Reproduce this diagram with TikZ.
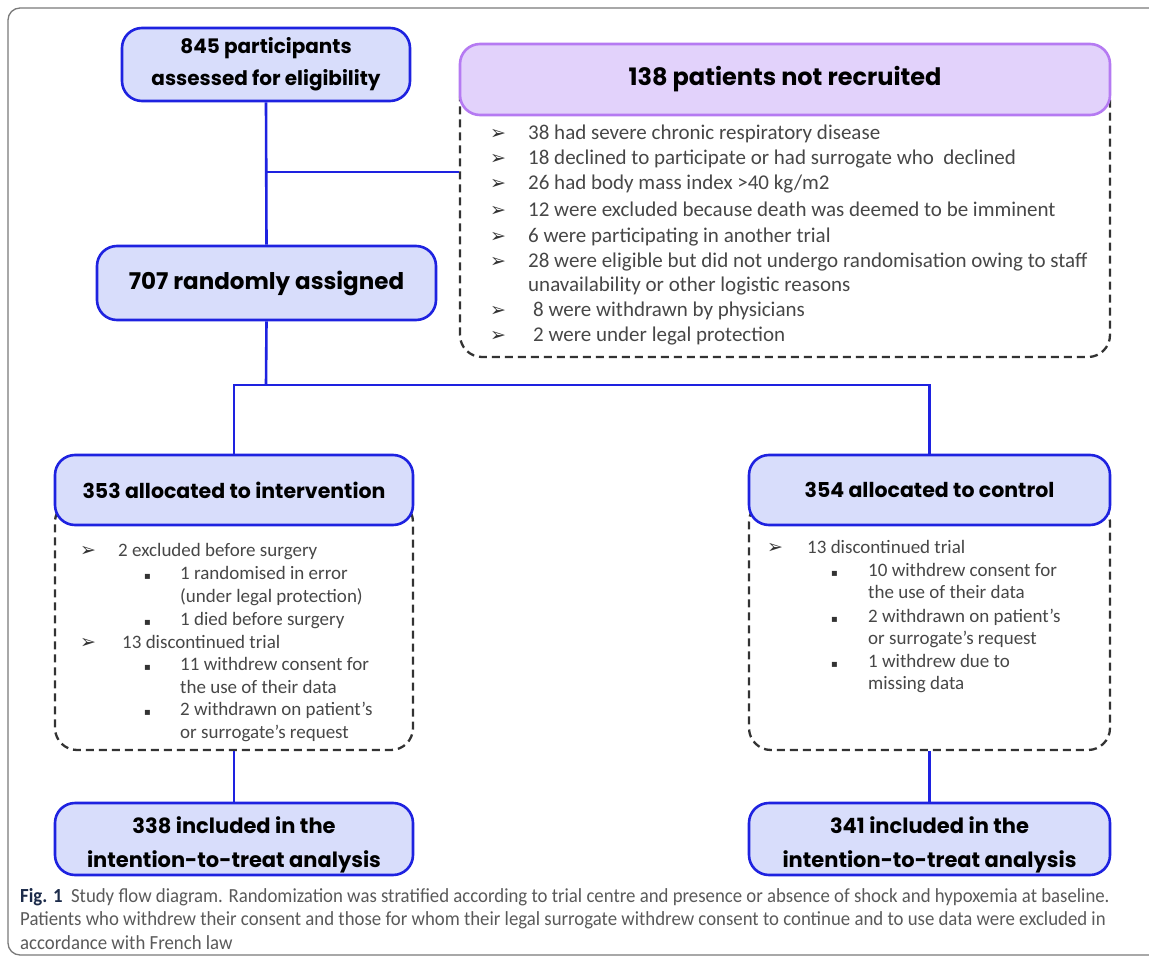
\documentclass[tikz,border=0pt]{standalone}
\usepackage{fontspec}
\setmainfont{Carlito}
\newfontfamily\tf{Poppins}
\newfontfamily\capf{Carlito}[FakeStretch=0.94]
\newfontfamily\sym{DejaVu Sans}
\definecolor{myblue}{HTML}{1E22E0}
\definecolor{boxfill}{HTML}{D8DDFB}
\definecolor{purpfill}{HTML}{E2D2FB}
\definecolor{purpline}{HTML}{B57AF2}
\definecolor{dashgray}{HTML}{333333}
\definecolor{txtgray}{HTML}{474747}
\definecolor{capgray}{HTML}{5A5A5A}
\definecolor{fignavy}{HTML}{1C2B4A}
\definecolor{framegray}{HTML}{7A7A7A}
\tikzset{
  bluebox/.style={draw=myblue, line width=2.6pt, fill=boxfill, rounded corners=20pt, inner sep=0pt, align=center, text=black, font=\tf\bfseries\fontsize{20}{32}\selectfont},
  purpbox/.style={bluebox, draw=purpline, fill=purpfill},
  dashbox/.style={draw=dashgray, line width=2.3pt, dash pattern=on 8pt off 5pt, rounded corners=22pt, inner sep=0pt},
  conn/.style={draw=myblue, line width=2.6pt},
  itm/.style={anchor=mid west, inner sep=0pt, text=txtgray, font=\fontsize{21}{25}\selectfont},
  sitm/.style={anchor=mid west, inner sep=0pt, text=txtgray, font=\fontsize{19}{22}\selectfont},
  arw/.style={anchor=mid west, inner sep=0pt, text=dashgray, font=\sym\fontsize{19}{20}\selectfont},
  sq/.style={anchor=mid west, inner sep=0pt, text=dashgray, font=\sym\fontsize{10}{12}\selectfont},
  captxt/.style={anchor=mid west, inner sep=0pt, text=capgray, font=\capf\fontsize{20}{24}\selectfont},
}
\begin{document}
\begin{tikzpicture}[x=1pt,y=-1pt]
\useasboundingbox (0,0) rectangle (1149,963);
\fill[white] (0,0) rectangle (1149,963);
\draw[framegray, line width=1.3pt, rounded corners=12pt] (8,8) rectangle (1175,955);

% dashed list boxes (behind headers)
\node[dashbox, minimum width=650pt, minimum height=282pt] (notlist) at (785,216) {};
\node[dashbox, minimum width=358pt, minimum height=250pt] (intlist) at (234,625) {};
\node[dashbox, minimum width=361pt, minimum height=250pt] (ctllist) at (929.5,625) {};

% headers / boxes
\node[bluebox, minimum width=288pt, minimum height=73pt] (n845) at (266,64.5) {845 participants\\assessed for eligibility};
\node[purpbox, minimum width=650pt, minimum height=71pt, font=\tf\bfseries\fontsize{24}{28}\selectfont] (nothead) at (785,79.5) {138 patients not recruited};
\node[bluebox, minimum width=339pt, minimum height=74pt, font=\tf\bfseries\fontsize{23}{28}\selectfont] (n707) at (266.5,283) {707 randomly assigned};
\node[bluebox, minimum width=358pt, minimum height=70pt, font=\tf\bfseries\fontsize{20.5}{24}\selectfont] (nint) at (234,490) {353 allocated to intervention};
\node[bluebox, minimum width=361pt, minimum height=70pt, font=\tf\bfseries\fontsize{20.5}{24}\selectfont] (nctl) at (929.5,490) {354 allocated to control};
\node[bluebox, minimum width=358pt, minimum height=72pt, font=\tf\bfseries\fontsize{21}{34}\selectfont] (n338) at (234,839) {\rule{0pt}{29pt}338 included in the\\intention-to-treat analysis};
\node[bluebox, minimum width=361pt, minimum height=72pt, font=\tf\bfseries\fontsize{21}{34}\selectfont] (n341) at (929.5,839) {\rule{0pt}{29pt}341 included in the\\intention-to-treat analysis};

% connectors
\coordinate (br) at (266,172);
\coordinate (sp) at (266,385);
\draw[conn] (n845.south) -- (n707.north);
\draw[conn] (br) -- (br -| notlist.west);
\draw[conn] (n707.south) -- (sp);
\draw[conn] (nint.north) |- (sp) -| (nctl.north);
\draw[conn] (intlist.south) -- (n338.north);
\draw[conn] (ctllist.south) -- (n341.north);

% not recruited list
\foreach \y/\nm in {137/a1,162/a2,187/a3,214/a4,240/a5,265/a6,314/a7,339/a8}
  \node[arw] (\nm) at (490,\y) {➢};
\node[itm] (t1) at (528,137) {38 had severe chronic respiratory disease};
\node[itm] (t2) at (528,162) {18 declined to participate or had surrogate who\ \ declined};
\node[itm] (t3) at (528,187) {26 had body mass index >40 kg/m2};
\node[itm] (t4) at (528,214) {12 were excluded because death was deemed to be imminent};
\node[itm] (t5) at (528,240) {6 were participating in another trial};
\node[itm] (t6) at (528,265) {28 were eligible but did not undergo randomisation owing to staff};
\node[itm] (t6b) at (528,289) {unavailability or other logistic reasons};
\node[itm] (t7) at (533,314) {8 were withdrawn by physicians};
\node[itm] (t8) at (533,339) {2 were under legal protection};

% intervention list
\node[arw] (ia1) at (80,554) {➢};
\node[sitm] (i1) at (118,554) {2 excluded before surgery};
\node[sq] (ib1) at (144,577) {▪};
\node[sitm] (i2) at (180,577) {1 randomised in error};
\node[sitm] (i3) at (180,600) {(under legal protection)};
\node[sq] (ib2) at (144,623) {▪};
\node[sitm] (i4) at (180,623) {1 died before surgery};
\node[arw] (ia2) at (80,646) {➢};
\node[sitm] (i5) at (122,646) {13 discontinued trial};
\node[sq] (ib3) at (144,668) {▪};
\node[sitm] (i6) at (180,668) {11 withdrew consent for};
\node[sitm] (i7) at (180,691) {the use of their data};
\node[sq] (ib4) at (144,713) {▪};
\node[sitm] (i8) at (180,713) {2 withdrawn on patient's};
\node[sitm] (i9) at (180,736) {or surrogate's request};

% control list
\node[arw] (ca1) at (767,551) {➢};
\node[sitm] (c1) at (807,551) {13 discontinued trial};
\node[sq] (cb1) at (831,574) {▪};
\node[sitm] (c2) at (868,574) {10 withdrew consent for};
\node[sitm] (c3) at (868,596) {the use of their data};
\node[sq] (cb2) at (831,620) {▪};
\node[sitm] (c4) at (868,620) {2 withdrawn on patient’s};
\node[sitm] (c5) at (868,642) {or surrogate’s request};
\node[sq] (cb3) at (831,665) {▪};
\node[sitm] (c6) at (868,665) {1 withdrew due to};
\node[sitm] (c7) at (868,687) {missing data};

% caption
\node[captxt] (cap1) at (20,900) {\textcolor{fignavy}{\bfseries Fig. 1}\ \ Study flow diagram. Randomization was stratified according to trial centre and presence or absence of shock and hypoxemia at baseline.};
\node[captxt] (cap2) at (20,923.5) {Patients who withdrew their consent and those for whom their legal surrogate withdrew consent to continue and to use data were excluded in};
\node[captxt] (cap3) at (20,947) {accordance with French law};
\end{tikzpicture}
\end{document}
